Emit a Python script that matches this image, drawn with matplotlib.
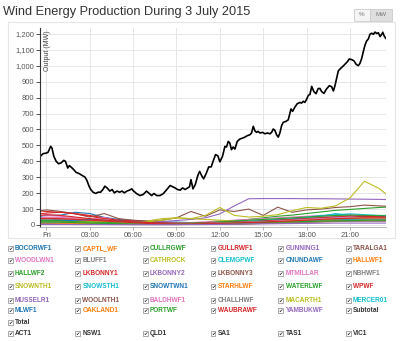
import matplotlib
matplotlib.use("Agg")
import matplotlib.pyplot as plt
from matplotlib.patches import Rectangle
from matplotlib.ticker import FuncFormatter

plt.rcParams['font.family'] = ['Liberation Sans', 'DejaVu Sans']

# hourly samples for each wind farm (first point is just before midnight)
hours = [-0.42, 0, 1, 2, 3, 4, 5, 6, 7, 8, 9, 10, 11, 12, 13, 14, 15, 16,
         17, 18, 19, 20, 21, 22, 23, 23.49]

farms = ["BOCORWF1", "CAPTL_WF", "CULLRGWF", "GULLRWF1", "GUNNING1", "TARALGA1",
         "WOODLWN1", "BLUFF1", "CATHROCK", "CLEMGPWF", "CNUNDAWF", "HALLWF1",
         "HALLWF2", "LKBONNY1", "LKBONNY2", "LKBONNY3", "MTMILLAR", "NBHWF1",
         "SNOWNTH1", "SNOWSTH1", "SNOWTWN1", "STARHLWF", "WATERLWF", "WPWF",
         "MUSSELR1", "WOOLNTH1", "BALDHWF1", "CHALLHWF", "MACARTH1", "MERCER01",
         "MLWF1", "OAKLAND1", "PORTWF", "WAUBRAWF", "YAMBUKWF"]

farm_mw = [
    [55, 60, 62, 80, 72, 48, 35, 28, 25, 20, 18, 15, 15, 18, 20, 22, 25, 28, 30, 32, 35, 38, 40, 42, 40, 40],
    [20, 22, 20, 18, 15, 12, 10, 8, 6, 5, 5, 6, 8, 10, 12, 15, 18, 20, 25, 28, 30, 32, 35, 33, 30, 28],
    [15, 15, 12, 10, 8, 6, 5, 5, 5, 6, 8, 10, 15, 20, 28, 35, 45, 55, 62, 72, 82, 92, 98, 104, 110, 112],
    [88, 85, 80, 72, 60, 45, 30, 20, 15, 10, 8, 8, 10, 12, 15, 18, 20, 22, 25, 30, 35, 40, 45, 50, 50, 48],
    [30, 32, 35, 38, 35, 30, 25, 22, 20, 22, 28, 35, 45, 70, 120, 165, 166, 166, 166, 165, 165, 164, 163, 162, 161, 160],
    [90, 95, 85, 70, 50, 72, 40, 30, 25, 30, 45, 85, 55, 95, 85, 100, 60, 112, 80, 95, 100, 110, 115, 125, 120, 118],
    [60, 62, 55, 45, 35, 48, 25, 18, 15, 12, 10, 10, 12, 15, 18, 20, 25, 30, 35, 40, 50, 60, 65, 60, 55, 55],
    [20, 22, 20, 18, 15, 12, 10, 8, 6, 5, 5, 5, 6, 8, 10, 12, 15, 18, 20, 22, 25, 28, 30, 32, 30, 30],
    [20, 22, 25, 20, 15, 12, 10, 15, 25, 40, 45, 40, 60, 110, 60, 50, 55, 65, 90, 110, 105, 120, 170, 275, 230, 195],
    [15, 15, 12, 10, 8, 6, 5, 5, 5, 5, 8, 10, 12, 15, 18, 20, 25, 30, 35, 45, 55, 72, 60, 50, 45, 45],
    [25, 25, 22, 20, 18, 15, 10, 8, 6, 5, 5, 5, 5, 6, 8, 10, 12, 15, 18, 20, 25, 30, 35, 40, 42, 40],
    [40, 42, 45, 40, 35, 30, 25, 20, 15, 10, 8, 6, 5, 5, 6, 8, 10, 12, 15, 20, 25, 30, 35, 38, 40, 40],
    [30, 30, 28, 25, 22, 18, 15, 12, 10, 8, 6, 5, 5, 5, 6, 8, 10, 12, 15, 18, 22, 25, 28, 30, 30, 30],
    [70, 75, 80, 70, 55, 40, 30, 25, 20, 15, 12, 10, 8, 8, 10, 12, 15, 20, 25, 30, 40, 45, 50, 55, 55, 52],
    [10, 10, 8, 8, 6, 5, 5, 4, 4, 4, 5, 6, 8, 10, 12, 15, 20, 25, 30, 35, 40, 45, 48, 50, 50, 48],
    [8, 8, 6, 6, 5, 4, 4, 3, 3, 3, 3, 4, 5, 6, 8, 10, 12, 15, 18, 20, 22, 25, 28, 30, 30, 30],
    [45, 50, 48, 40, 30, 25, 20, 15, 10, 10, 12, 15, 20, 25, 30, 35, 40, 45, 50, 55, 60, 55, 50, 48, 45, 45],
    [35, 38, 35, 30, 25, 20, 15, 10, 8, 6, 5, 5, 5, 6, 8, 10, 12, 15, 18, 20, 25, 30, 32, 35, 35, 35],
    [15, 15, 18, 20, 22, 20, 18, 15, 20, 30, 45, 40, 35, 30, 25, 22, 25, 30, 35, 40, 45, 50, 55, 60, 60, 58],
    [10, 10, 12, 15, 12, 10, 8, 6, 5, 5, 6, 8, 10, 15, 20, 25, 30, 35, 40, 50, 60, 65, 70, 65, 60, 60],
    [20, 20, 25, 30, 35, 30, 25, 20, 15, 12, 10, 10, 12, 15, 18, 20, 25, 30, 35, 40, 45, 50, 52, 55, 55, 55],
    [5, 5, 5, 5, 5, 4, 4, 3, 3, 3, 3, 3, 4, 5, 6, 8, 10, 12, 15, 18, 20, 22, 25, 25, 25, 25],
    [25, 25, 22, 20, 18, 15, 12, 10, 8, 8, 10, 12, 15, 20, 25, 30, 35, 40, 45, 50, 55, 60, 62, 60, 58, 58],
    [60, 65, 60, 50, 40, 30, 25, 20, 15, 12, 10, 10, 12, 15, 18, 20, 25, 30, 35, 40, 45, 50, 55, 55, 52, 50],
    [5, 5, 5, 5, 5, 4, 4, 4, 4, 4, 5, 5, 5, 6, 8, 10, 12, 15, 18, 20, 22, 25, 25, 25, 25, 25],
    [12, 12, 10, 10, 8, 6, 5, 5, 5, 5, 6, 8, 10, 12, 15, 18, 20, 22, 25, 28, 30, 32, 35, 35, 35, 35],
    [15, 15, 12, 10, 8, 6, 5, 5, 5, 5, 6, 8, 10, 12, 15, 18, 20, 25, 30, 35, 40, 45, 50, 45, 40, 40],
    [8, 8, 8, 6, 6, 5, 5, 5, 5, 5, 5, 5, 6, 6, 8, 10, 12, 14, 16, 18, 20, 22, 24, 25, 25, 25],
    [20, 20, 18, 15, 12, 10, 8, 6, 5, 5, 5, 6, 8, 10, 12, 15, 18, 22, 26, 30, 35, 40, 42, 45, 45, 45],
    [15, 15, 12, 10, 8, 6, 5, 5, 5, 5, 5, 6, 8, 10, 12, 15, 18, 20, 22, 25, 28, 30, 32, 35, 35, 35],
    [10, 10, 8, 8, 6, 5, 5, 5, 5, 5, 5, 6, 8, 10, 12, 14, 16, 18, 20, 22, 24, 26, 28, 30, 30, 30],
    [12, 12, 10, 10, 8, 6, 5, 5, 5, 5, 5, 6, 8, 10, 12, 14, 16, 18, 20, 22, 24, 26, 28, 30, 30, 30],
    [20, 20, 18, 15, 12, 10, 8, 6, 5, 5, 5, 6, 8, 10, 12, 14, 16, 18, 20, 22, 24, 26, 28, 30, 30, 30],
    [40, 42, 40, 35, 30, 25, 20, 15, 10, 8, 6, 6, 8, 10, 12, 15, 18, 22, 26, 30, 35, 40, 42, 45, 45, 45],
    [4, 4, 4, 3, 3, 3, 2, 2, 2, 2, 2, 3, 3, 4, 5, 6, 7, 8, 9, 10, 11, 12, 12, 12, 12, 12],
]

# total output, finer sampling
total_hours = [
    -0.42, -0.23, 0, 0.11, 0.3, 0.39, 0.52, 0.68, 0.84, 1.02, 1.2, 1.32, 1.48, 1.59,
    1.7, 1.89, 2.05, 2.27, 2.5, 2.66, 2.8, 2.95, 3.07, 3.23, 3.41, 3.57, 3.75, 3.91,
    4.05, 4.2, 4.39, 4.55, 4.7, 4.89, 5.07, 5.23, 5.39, 5.57, 5.75, 5.91, 6.0, 6.23,
    6.47, 6.7, 6.93, 7.12, 7.28, 7.44, 7.63, 7.86, 8.1, 8.33, 8.56, 8.74, 8.9, 9.07,
    9.26, 9.42, 9.6, 9.77, 9.9, 10.0, 10.14, 10.3, 10.47, 10.6, 10.74, 10.88, 11.07,
    11.23, 11.4, 11.53, 11.7, 11.86, 12.0, 12.18, 12.35, 12.46, 12.58, 12.69, 12.8,
    12.92, 13.04, 13.2, 13.38, 13.57, 13.73, 13.89, 14.08, 14.19, 14.31, 14.42, 14.54,
    14.65, 14.77, 14.95, 15.12, 15.28, 15.46, 15.58, 15.69, 15.81, 15.92, 16.04, 16.15,
    16.27, 16.38, 16.57, 16.73, 16.85, 16.92, 17.03, 17.19, 17.35, 17.54, 17.65, 17.77,
    17.88, 18.0, 18.12, 18.23, 18.35, 18.5, 18.65, 18.8, 18.92, 19.04, 19.2, 19.38,
    19.57, 19.73, 19.85, 19.96, 20.08, 20.19, 20.35, 20.49, 20.65, 20.82, 20.95, 21.12,
    21.28, 21.42, 21.58, 21.69, 21.81, 21.92, 22.04, 22.15, 22.27, 22.38, 22.5, 22.62,
    22.73, 22.85, 22.96, 23.08, 23.19, 23.27, 23.35, 23.47]
total_mw = [
    431, 448, 452, 456, 494, 483, 431, 400, 385, 390, 406, 400, 358, 373,
    365, 348, 331, 323, 310, 302, 281, 244, 223, 206, 198, 206, 206, 223,
    244, 233, 213, 223, 202, 213, 206, 213, 202, 213, 219, 227, 216, 198,
    185, 192, 213, 198, 185, 198, 185, 185, 198, 223, 248, 240, 233, 223,
    219, 233, 223, 233, 240, 285, 227, 254, 310, 337, 310, 290, 327,
    365, 365, 400, 442, 435, 397, 431, 494, 490, 525, 515, 473,
    490, 477, 525, 540, 546, 552, 561, 567, 578, 620, 592, 582,
    588, 578, 582, 573, 578, 573, 582, 603, 594, 567, 552, 578,
    624, 645, 651, 661, 703, 729, 714, 741, 762, 770, 766, 777,
    770, 790, 815, 820, 871, 838, 825, 857, 858, 838, 827, 855,
    875, 869, 842, 875, 922, 968, 984, 995, 1010, 1026, 1043, 1039,
    1031, 1010, 1001, 1016, 1047, 1089, 1131, 1156, 1169, 1198, 1205, 1198,
    1212, 1203, 1208, 1184, 1198, 1211, 1190, 1173]

tick_hours = [0, 3, 6, 9, 12, 15, 18, 21]
tick_labels = ["Fri", "03:00", "06:00", "09:00", "12:00", "15:00", "18:00", "21:00"]

legend_rows = [
    ["BOCORWF1", "CAPTL_WF", "CULLRGWF", "GULLRWF1", "GUNNING1", "TARALGA1"],
    ["WOODLWN1", "BLUFF1", "CATHROCK", "CLEMGPWF", "CNUNDAWF", "HALLWF1"],
    ["HALLWF2", "LKBONNY1", "LKBONNY2", "LKBONNY3", "MTMILLAR", "NBHWF1"],
    ["SNOWNTH1", "SNOWSTH1", "SNOWTWN1", "STARHLWF", "WATERLWF", "WPWF"],
    ["MUSSELR1", "WOOLNTH1", "BALDHWF1", "CHALLHWF", "MACARTH1", "MERCER01"],
    ["MLWF1", "OAKLAND1", "PORTWF", "WAUBRAWF", "YAMBUKWF", "Subtotal"],
    ["Total"],
    ["ACT1", "NSW1", "QLD1", "SA1", "TAS1", "VIC1"],
]

W, H = 400, 341
fig = plt.figure(figsize=(W / 100, H / 100), dpi=100)
palette = plt.get_cmap("tab10").colors
farm_color = {name: palette[i % 10] for i, name in enumerate(farms)}

# card border around the chart
fig.patches.append(Rectangle((8 / W, 1 - 238 / H), 387 / W, 216 / H,
                             transform=fig.transFigure, fill=False,
                             edgecolor="#e6e6e6", lw=0.8))

fig.text(3 / W, 1 - 12.5 / H, "Wind Energy Production During 3 July 2015",
         fontsize=9.2, color="#333333", va="center", ha="left")

# % / MW toggle
fig.patches.append(Rectangle((354 / W, 1 - 21 / H), 16 / W, 12 / H,
                             transform=fig.transFigure, facecolor="#f4f4f4",
                             edgecolor="#cccccc", lw=0.6))
fig.patches.append(Rectangle((370 / W, 1 - 21 / H), 22 / W, 12 / H,
                             transform=fig.transFigure, facecolor="#dedede",
                             edgecolor="#cccccc", lw=0.6))
fig.text(362 / W, 1 - 15 / H, "%", fontsize=4.5, color="#777777", ha="center", va="center")
fig.text(381 / W, 1 - 15 / H, "MW", fontsize=4.5, color="#777777", ha="center", va="center")

ax = fig.add_axes([40 / W, 1 - 227 / H, 346 / W, 199 / H])
for name, vals in zip(farms, farm_mw):
    ax.plot(hours, vals, color=farm_color[name], lw=0.8)
ax.plot(total_hours, total_mw, color="black", lw=1.2)

ax.set_xlim(-0.44, 23.49)
ax.set_ylim(-12.6, 1237.7)
ax.set_yticks(range(0, 1300, 100))
ax.yaxis.set_major_formatter(FuncFormatter(lambda v, p: f"{int(v):,}"))
ax.set_xticks(tick_hours)
ax.set_xticklabels(tick_labels)
ax.grid(True, color="#e6e6e6", lw=0.7)
ax.set_axisbelow(True)
for side in ("top", "right"):
    ax.spines[side].set_visible(False)
ax.spines["left"].set_color("#333333")
ax.spines["left"].set_linewidth(0.8)
ax.spines["bottom"].set_color("#aaaaaa")
ax.spines["bottom"].set_linewidth(0.6)
ax.tick_params(axis="y", length=3, width=0.6, pad=1, labelsize=5.5,
               labelcolor="#555555", color="#333333")
ax.tick_params(axis="x", length=2, width=0.6, pad=1.5, labelsize=5.5,
               labelcolor="#555555", color="#aaaaaa")
ax.text(0.012, 0.99, "Output (MW)", transform=ax.transAxes, rotation=90,
        fontsize=5, color="#444444", ha="left", va="top")

# checkbox legend
col_x = [7.5, 75, 142.5, 210.5, 278, 345.5]
row_y = [248.3, 260.7, 273.3, 286, 300, 310.7, 322.7, 333.3]
for r, row in enumerate(legend_rows):
    for c, name in enumerate(row):
        x, y = col_x[c], row_y[r]
        fig.patches.append(Rectangle((x / W, 1 - (y + 2.6) / H), 5 / W, 5 / H,
                                     transform=fig.transFigure, facecolor="white",
                                     edgecolor="#888888", lw=0.5))
        fig.text((x + 2.6) / W, 1 - y / H, "\u2714", family="DejaVu Sans",
                 fontsize=3.8, color="#333333", ha="center", va="center")
        fig.text((x + 7.5) / W, 1 - y / H, name, fontsize=4.7, fontweight="bold",
                 color=farm_color.get(name, "#333333"), ha="left", va="center")

fig.savefig("out.png", dpi=100)
